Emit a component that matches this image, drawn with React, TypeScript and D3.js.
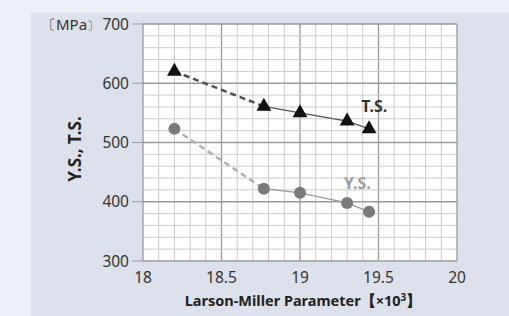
import React, { useRef, useEffect } from "react";
import * as d3 from "d3";

const lmp = [18.2, 18.77, 19.0, 19.3, 19.44];
const tensile = [620, 561, 550, 536, 523];
const yieldStr = [523, 422, 415, 398, 383];
const xTicks = [18, 18.5, 19, 19.5, 20];
const yTicks = [300, 400, 500, 600, 700];

const W = 509;
const H = 316;

const App = () => {
  const svgRef = useRef<SVGSVGElement>(null);

  useEffect(() => {
    const svg = d3.select(svgRef.current);
    svg.selectAll("*").remove();

    const left = 143;
    const right = 457;
    const top = 24;
    const bottom = 261;
    const font = "'Noto Sans', 'Open Sans', sans-serif";

    // background panels
    svg.append("rect").attr("width", W).attr("height", H).attr("fill", "#edf0f7");
    svg
      .append("rect")
      .attr("x", 30.5)
      .attr("y", 12.5)
      .attr("width", W)
      .attr("height", H)
      .attr("fill", "#dde1eb")
      .attr("stroke", "#e9ecf3")
      .attr("stroke-width", 1.5);

    const x = d3.scaleLinear().domain([18, 20]).range([left, right]);
    const y = d3.scaleLinear().domain([300, 700]).range([bottom, top]);

    svg
      .append("rect")
      .attr("x", left)
      .attr("y", top)
      .attr("width", right - left)
      .attr("height", bottom - top)
      .attr("fill", "#ffffff");

    // grid
    const grid = svg.append("g");
    d3.range(0, 21).forEach((i) => {
      const v = 18 + i * 0.1;
      const major = i % 5 === 0;
      grid
        .append("line")
        .attr("x1", x(v))
        .attr("x2", x(v))
        .attr("y1", top)
        .attr("y2", bottom)
        .attr("stroke", major ? "#9a9a9a" : "#cbcbcb")
        .attr("stroke-width", major ? 1.3 : 1);
    });
    d3.range(0, 21).forEach((i) => {
      const v = 300 + i * 20;
      const major = i % 5 === 0;
      grid
        .append("line")
        .attr("x1", left)
        .attr("x2", right)
        .attr("y1", y(v))
        .attr("y2", y(v))
        .attr("stroke", major ? "#9a9a9a" : "#cbcbcb")
        .attr("stroke-width", major ? 1.3 : 1);
    });

    // y ticks
    yTicks.forEach((t) => {
      svg
        .append("line")
        .attr("x1", left - 11)
        .attr("x2", left)
        .attr("y1", y(t))
        .attr("y2", y(t))
        .attr("stroke", "#999")
        .attr("stroke-width", 1);
      svg
        .append("text")
        .attr("x", 129)
        .attr("y", y(t) + 5.5)
        .attr("text-anchor", "end")
        .attr("font-family", font)
        .attr("font-size", 15.5)
        .attr("fill", "#333")
        .text(t);
    });
    // unit label: brackets placed separately so the full-width glyphs don't crowd "MPa"
    const unit = svg
      .append("text")
      .attr("y", y(700) + 5.5)
      .attr("font-family", font)
      .attr("font-size", 15)
      .attr("fill", "#333");
    unit.append("tspan").attr("x", 41).text("〔");
    unit.append("tspan").attr("x", 56).text("MPa");
    unit.append("tspan").attr("x", 87).attr("font-size", 12).text("〕");

    // x ticks
    xTicks.forEach((t) => {
      svg
        .append("text")
        .attr("x", x(t))
        .attr("y", 283)
        .attr("text-anchor", "middle")
        .attr("font-family", font)
        .attr("font-size", 15.5)
        .attr("fill", "#333")
        .text(t);
    });

    // axis titles
    svg
      .append("text")
      .attr("transform", `translate(81, 149) rotate(-90)`)
      .attr("text-anchor", "middle")
      .attr("font-family", font)
      .attr("font-size", 17)
      .attr("font-weight", "bold")
      .attr("fill", "#222")
      .text("Y.S., T.S.");
    const xt = svg
      .append("text")
      .attr("x", 303)
      .attr("y", 306)
      .attr("text-anchor", "middle")
      .attr("font-family", font)
      .attr("font-size", 14.5)
      .attr("font-weight", "bold")
      .attr("fill", "#222");
    xt.append("tspan").text("Larson-Miller Parameter【×10");
    xt.append("tspan").attr("dy", -5).attr("font-size", 10).text("3");
    xt.append("tspan").attr("dy", 5).text("】");

    // series lines
    const drawSeries = (vals: number[], dashColor: string, lineColor: string) => {
      const pts = lmp.map((d, i) => [x(d), y(vals[i])] as [number, number]);
      svg
        .append("path")
        .attr("d", d3.line()(pts.slice(0, 2)))
        .attr("fill", "none")
        .attr("stroke", dashColor)
        .attr("stroke-width", 2.5)
        .attr("stroke-dasharray", "6,4");
      svg
        .append("path")
        .attr("d", d3.line()(pts.slice(1)))
        .attr("fill", "none")
        .attr("stroke", lineColor)
        .attr("stroke-width", 1.2);
      return pts;
    };

    const ysPts = drawSeries(yieldStr, "#b0b0b0", "#9a9a9a");
    const tsPts = drawSeries(tensile, "#505050", "#555");

    svg
      .append("g")
      .selectAll("circle")
      .data(ysPts)
      .enter()
      .append("circle")
      .attr("cx", (d) => d[0])
      .attr("cy", (d) => d[1])
      .attr("r", 6)
      .attr("fill", "#7a7a7a");

    const tri = d3.symbol().type(d3.symbolTriangle).size(95);
    svg
      .append("g")
      .selectAll("path")
      .data(tsPts)
      .enter()
      .append("path")
      .attr("d", tri)
      .attr("transform", (d) => `translate(${d[0]},${d[1]})`)
      .attr("fill", "#111");

    // series labels
    svg
      .append("text")
      .attr("x", x(19.39))
      .attr("y", y(551))
      .attr("font-family", font)
      .attr("font-size", 16)
      .attr("font-weight", "bold")
      .attr("fill", "#333")
      .text("T.S.");
    svg
      .append("text")
      .attr("x", x(19.28))
      .attr("y", y(421))
      .attr("font-family", font)
      .attr("font-size", 16)
      .attr("font-weight", "bold")
      .attr("fill", "#a0a0a0")
      .text("Y.S.");
  }, []);

  return (
    <svg
      ref={svgRef}
      width={W}
      height={H}
      style={{ position: "absolute", left: 0, top: 0 }}
    />
  );
};

export default App;
